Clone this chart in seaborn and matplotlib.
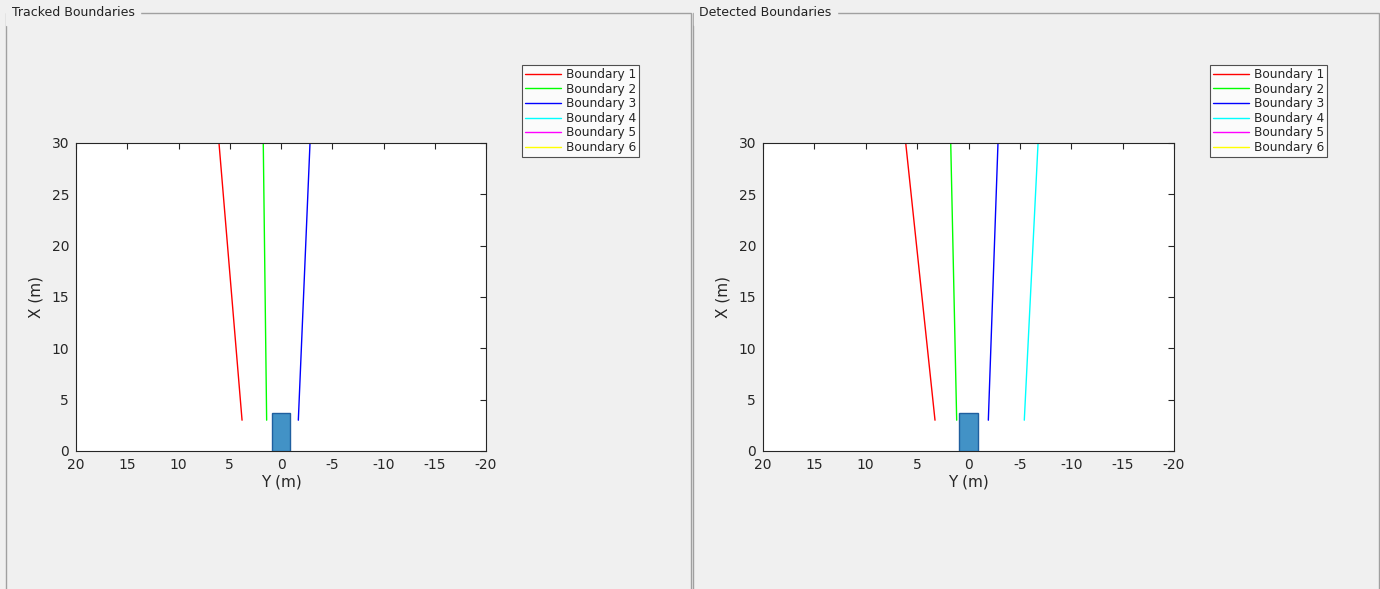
import pandas as pd
import matplotlib
matplotlib.use("Agg")
import matplotlib.pyplot as plt
import seaborn as sns
from matplotlib.lines import Line2D
from matplotlib.patches import Rectangle

# boundary end points: lateral offset Y (m) at X = 3 m and X = 30 m
x_range = [3, 30]
tracked_y = {
    "Boundary 1": [3.8, 6.05],
    "Boundary 2": [1.4, 1.73],
    "Boundary 3": [-1.69, -2.83],
}
detected_y = {
    "Boundary 1": [3.26, 6.11],
    "Boundary 2": [1.15, 1.73],
    "Boundary 3": [-1.93, -2.87],
    "Boundary 4": [-5.43, -6.77],
}
legend_names = ["Boundary 1", "Boundary 2", "Boundary 3", "Boundary 4", "Boundary 5", "Boundary 6"]
legend_colors = ["#ff0000", "#00ff00", "#0000ff", "#00ffff", "#ff00ff", "#ffff00"]
car_length = 3.7
car_width = 1.8
x_ticks = [20, 15, 10, 5, 0, -5, -10, -15, -20]
y_ticks = [0, 5, 10, 15, 20, 25, 30]

sns.set_style("white")
plt.rcParams["font.family"] = ["DejaVu Sans"]
bg = "#f0f0f0"
W, H = 1380, 589
fig = plt.figure(figsize=(W / 100, H / 100), dpi=100, facecolor=bg)


def to_df(d):
    rows = []
    for name, ys in d.items():
        for xv, yv in zip(x_range, ys):
            rows.append({"Boundary": name, "X": xv, "Y": yv})
    return pd.DataFrame(rows)


def panel(x0, x1, title):
    # uipanel style frame
    fig.patches.append(Rectangle((x0 / W, -0.05), (x1 - x0) / W, 1.05 - 12.5 / H,
                                 transform=fig.transFigure, fill=False,
                                 edgecolor="#a0a0a0", lw=1.0))
    fig.text((x0 + 6) / W, 1 - 13 / H, title, fontsize=9, color="#222222",
             va="center", ha="left", backgroundcolor=bg)


def draw(ax_px, data, leg_px):
    left, right, top, bottom = ax_px
    ax = fig.add_axes([left / W, 1 - bottom / H, (right - left) / W, (bottom - top) / H])
    df = to_df(data)
    palette = dict(zip(legend_names, legend_colors))
    sns.lineplot(data=df, x="Y", y="X", hue="Boundary", palette=palette,
                 sort=False, estimator=None, lw=1.0, legend=False, ax=ax)
    ax.add_patch(Rectangle((-car_width / 2, 0), car_width, car_length,
                           facecolor="#4292c6", edgecolor="#1f5f9f", lw=1.0, zorder=3))
    ax.set_xlim(20, -20)
    ax.set_ylim(0, 30)
    ax.set_xticks(x_ticks)
    ax.set_xticklabels([str(t) for t in x_ticks])
    ax.set_yticks(y_ticks)
    ax.tick_params(direction="in", length=4, width=0.8, colors="#262626",
                   labelsize=10, top=True, right=True, pad=5)
    ax.set_xlabel("Y (m)", fontsize=11, color="#262626", labelpad=2)
    ax.set_ylabel("X (m)", fontsize=11, color="#262626", labelpad=6)
    for s in ax.spines.values():
        s.set_color("#262626")
        s.set_linewidth(0.8)
    handles = [Line2D([], [], color=c, lw=1.0) for c in legend_colors]
    leg = fig.legend(handles, legend_names, loc="upper left",
                     bbox_to_anchor=(leg_px[0] / W, 1 - leg_px[1] / H),
                     fontsize=8.7, frameon=True, fancybox=False, borderaxespad=0,
                     handlelength=3.0, handletextpad=0.4, labelspacing=0.13,
                     borderpad=0.25)
    leg.get_frame().set_edgecolor("#262626")
    leg.get_frame().set_linewidth(0.8)
    return ax


panel(5.5, 691, "Tracked Boundaries")
panel(693, 1379, "Detected Boundaries")
draw((76, 486, 143, 451), tracked_y, (522, 65))
draw((763, 1174, 143, 451), detected_y, (1210, 65))

fig.savefig("out.png", dpi=100, facecolor=bg)
